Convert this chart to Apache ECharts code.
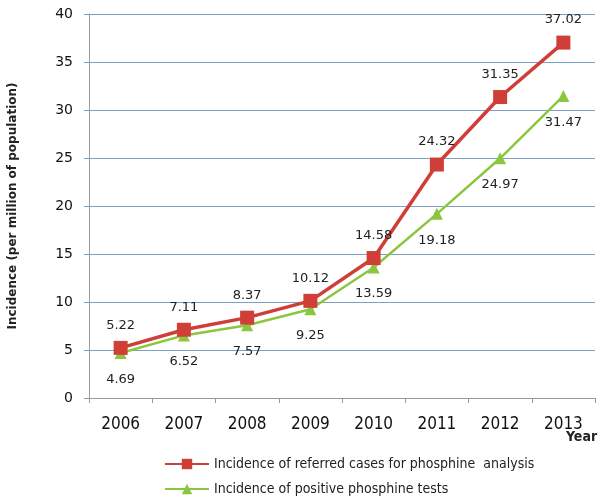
<!DOCTYPE html>
<html>
<head>
<meta charset="utf-8">
<script src="https://cdn.jsdelivr.net/npm/echarts@6/dist/echarts.min.js"></script>
<style>
html,body{margin:0;padding:0;background:#fff;}
#chart{width:606px;height:501px;}
</style>
</head>
<body>
<div id="chart"></div>
<script>
// Incidence of phosphine cases per million of population, by year
const years = ['2006', '2007', '2008', '2009', '2010', '2011', '2012', '2013'];
const referredCases = [5.22, 7.11, 8.37, 10.12, 14.58, 24.32, 31.35, 37.02];
const positiveTests = [4.69, 6.52, 7.57, 9.25, 13.59, 19.18, 24.97, 31.47];
const yTicks = { min: 0, max: 40, interval: 5 };

const chart = echarts.init(document.getElementById('chart'), null, { renderer: 'canvas' });
const font = 'DejaVu Sans';
const narrow = '"Liberation Sans Narrow", "DejaVu Sans Condensed", "DejaVu Sans"';

chart.setOption({
  backgroundColor: '#ffffff',
  animation: false,
  grid: { left: 89, right: 11, top: 14, bottom: 103, outerBoundsMode: 'none', containLabel: false },
  legend: {
    orient: 'vertical',
    left: 159,
    top: 452,
    height: 80,
    itemGap: 11,
    itemWidth: 44,
    itemHeight: 13,
    textStyle: { fontFamily: narrow, fontSize: 14, color: '#222' },
    data: [
      'Incidence of referred cases for phosphine  analysis',
      'Incidence of positive phosphine tests'
    ]
  },
  xAxis: {
    type: 'category',
    data: years,
    boundaryGap: true,
    name: 'Year',
    nameLocation: 'end',
    nameGap: 0,
    nameMoveOverlap: false,
    nameTextStyle: { fontFamily: narrow, fontSize: 14, fontWeight: 'bold', color: '#222', verticalAlign: 'top', padding: [32, 0, 0, -29] },
    axisLine: { lineStyle: { color: '#9a9a9a', width: 1 } },
    axisTick: { show: true, alignWithLabel: false, length: 5, lineStyle: { color: '#9a9a9a' } },
    axisLabel: { fontFamily: narrow, fontSize: 17, color: '#111', margin: 18 },
    splitLine: { show: false }
  },
  yAxis: {
    type: 'value',
    min: yTicks.min,
    max: yTicks.max,
    interval: yTicks.interval,
    name: 'Incidence (per million of population)',
    nameLocation: 'middle',
    nameGap: 70,
    nameTextStyle: { fontFamily: font, fontSize: 12, fontWeight: 'bold', color: '#222' },
    axisLine: { show: true, lineStyle: { color: '#9a9a9a', width: 1 } },
    axisTick: { show: true, length: 5, lineStyle: { color: '#7d9fc0' } },
    axisLabel: { fontFamily: font, fontSize: 14, color: '#111', margin: 16 },
    splitLine: { show: true, lineStyle: { color: '#7d9fc0', width: 1 } }
  },
  series: [
    {
      name: 'Incidence of referred cases for phosphine  analysis',
      type: 'line',
      data: referredCases,
      symbol: 'rect',
      symbolSize: 14,
      color: '#cf3f37',
      lineStyle: { width: 3.5, color: '#cf3f37' },
      itemStyle: { color: '#cf3f37' },
      z: 3,
      label: {
        show: true,
        position: 'top',
        distance: 9,
        fontFamily: font,
        fontSize: 13,
        color: '#222'
      }
    },
    {
      name: 'Incidence of positive phosphine tests',
      type: 'line',
      data: positiveTests,
      symbol: 'triangle',
      symbolSize: 12,
      color: '#8cc63f',
      lineStyle: { width: 2.5, color: '#8cc63f' },
      itemStyle: { color: '#8cc63f' },
      z: 2,
      label: {
        show: true,
        position: 'bottom',
        distance: 14,
        fontFamily: font,
        fontSize: 13,
        color: '#222'
      }
    }
  ]
});
</script>
</body>
</html>
